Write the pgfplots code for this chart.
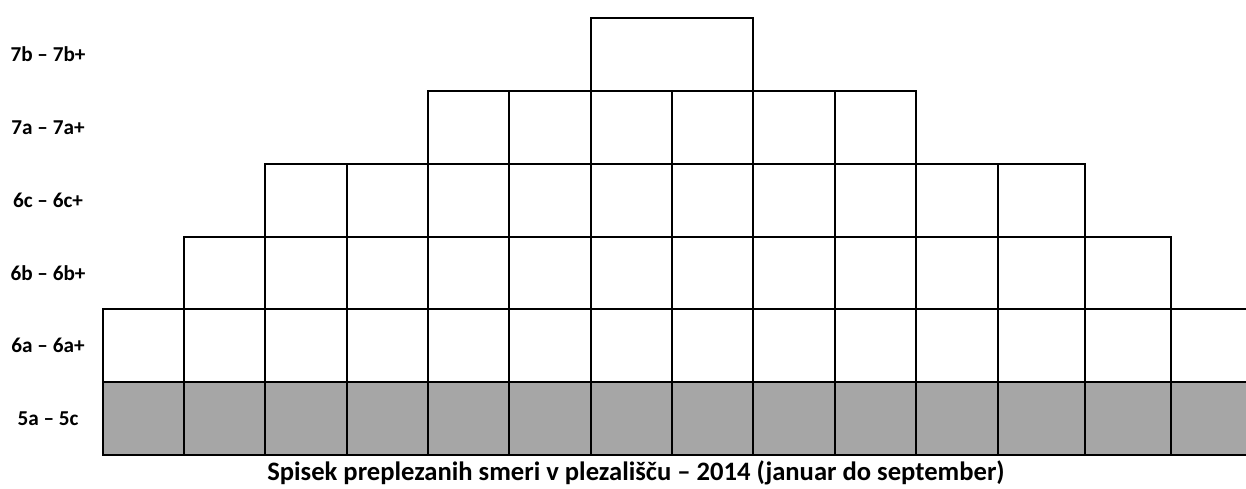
\documentclass[border=0pt]{standalone}
\usepackage{fontspec}
\setmainfont{Carlito}
\usepackage{pgfplots}
\pgfplotsset{compat=1.18}
\definecolor{cellgray}{HTML}{A6A6A6}
\begin{document}
\begin{tikzpicture}[x=0.5pt,y=0.5pt]
\useasboundingbox (0,0) rectangle (1246,488);
\begin{axis}[
  at={(51.5pt,16.5pt)}, anchor=south west,
  scale only axis, width=571.5pt, height=218.5pt,
  xmin=103, xmax=1246, ymin=0, ymax=6,
  clip=false,
  axis x line*=bottom, axis y line*=left,
  y axis line style={draw=none},
  x axis line style={line width=1.4pt,-},
  xtick=\empty,
  ytick={0.5,1.5,2.5,3.5,4.5,5.5},
  yticklabels={5a – 5c, 6a – 6a+, 6b – 6b+, 6c – 6c+, 7a – 7a+, 7b – 7b+},
  major tick length=0pt,
  yticklabel style={anchor=center, xshift=-27.5pt, font=\fontsize{10.6}{12}\selectfont\bfseries},
  xlabel={Spisek preplezanih smeri v plezališču – 2014 (januar do september)},
  xlabel style={at={(axis description cs:0.4663,0)}, anchor=base, yshift=-12.5pt, font=\fontsize{13.3}{15}\selectfont\bfseries},
  every axis plot/.append style={ybar interval, draw=black, line width=1pt},
]
% level 7b (one cell over two columns)
\addplot[fill=white] coordinates {(591,6) (753,6)};
% level 7a
\addplot[fill=white] coordinates {(428,5) (509,5) (591,5) (672,5) (753,5) (835,5) (916,5)};
% level 6c
\addplot[fill=white] coordinates {(265,4) (347,4) (428,4) (509,4) (591,4) (672,4) (753,4) (835,4) (916,4) (998,4) (1085,4)};
% level 6b
\addplot[fill=white] coordinates {(184,3) (265,3) (347,3) (428,3) (509,3) (591,3) (672,3) (753,3) (835,3) (916,3) (998,3) (1085,3) (1171,3)};
% level 6a
\addplot[fill=white] coordinates {(103,2) (184,2) (265,2) (347,2) (428,2) (509,2) (591,2) (672,2) (753,2) (835,2) (916,2) (998,2) (1085,2) (1171,2) (1252,2)};
% level 5a-5c
\addplot[fill=cellgray] coordinates {(103,1) (184,1) (265,1) (347,1) (428,1) (509,1) (591,1) (672,1) (753,1) (835,1) (916,1) (998,1) (1085,1) (1171,1) (1252,1)};
\end{axis}
\end{tikzpicture}
\end{document}
